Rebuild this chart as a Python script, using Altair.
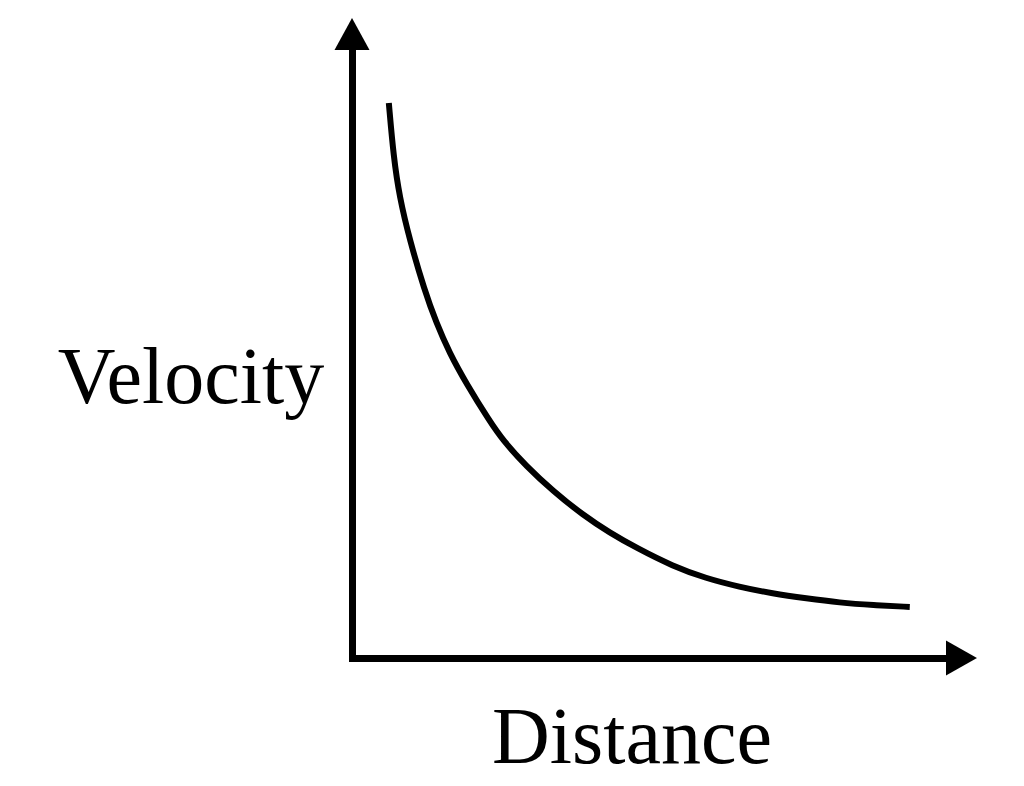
import altair as alt
import pandas as pd

# Curve (arbitrary units, origin at the axes corner)
distance = [0.62, 0.70, 0.80, 0.97, 1.22, 1.42, 1.64, 1.92, 2.32, 2.54, 2.93,
            3.38, 3.89, 4.34, 4.79, 5.40, 5.96, 6.52, 7.08, 7.65, 8.21, 8.77, 9.39]
velocity = [9.13, 8.24, 7.58, 6.88, 6.05, 5.51, 5.02, 4.52, 3.89, 3.58, 3.16,
            2.75, 2.35, 2.06, 1.81, 1.51, 1.31, 1.17, 1.06, 0.98, 0.91, 0.87, 0.84]

axis_max = 10
x_title = "Distance"
y_title = "Velocity"

curve = pd.DataFrame({"d": distance, "v": velocity})
x_arrow = pd.DataFrame({"d": [axis_max], "v": [0]})
y_arrow = pd.DataFrame({"d": [0], "v": [axis_max]})

FONT = "Liberation Serif"

x_scale = alt.Scale(domain=[0, axis_max], nice=False, zero=False)
y_scale = alt.Scale(domain=[0, axis_max], nice=False, zero=False)

x_axis = alt.Axis(
    title=x_title, grid=False, ticks=False, labels=False,
    domainColor="black", domainWidth=7, domainCap="square",
    titleFont=FONT, titleFontSize=80, titleFontWeight="normal", titleColor="black",
    titleAngle=0, titleAlign="center", titleBaseline="alphabetic",
    titleX=279.5, titleY=104,
)
y_axis = alt.Axis(
    title=y_title, grid=False, ticks=False, labels=False,
    domainColor="black", domainWidth=7, domainCap="square",
    titleFont=FONT, titleFontSize=80, titleFontWeight="normal", titleColor="black",
    titleAngle=0, titleAlign="center", titleBaseline="alphabetic",
    titleX=-161.5, titleY=352,
)

line = alt.Chart(curve).mark_line(
    color="black", strokeWidth=6, interpolate="basis"
).encode(
    x=alt.X("d:Q", scale=x_scale, axis=x_axis),
    y=alt.Y("v:Q", scale=y_scale, axis=y_axis),
)

head_right = alt.Chart(x_arrow).mark_point(
    shape="M0,-1L1.77,0L0,1Z", size=1225, filled=True, color="black",
    opacity=1, strokeWidth=0
).encode(
    x=alt.X("d:Q", scale=x_scale),
    y=alt.Y("v:Q", scale=y_scale),
)

head_up = alt.Chart(y_arrow).mark_point(
    shape="M-1,0L0,-1.83L1,0Z", size=1225, filled=True, color="black",
    opacity=1, strokeWidth=0
).encode(
    x=alt.X("d:Q", scale=x_scale),
    y=alt.Y("v:Q", scale=y_scale),
)

chart = alt.layer(line, head_right, head_up).properties(
    width=594,
    height=608,
    autosize=alt.AutoSizeParams(type="none"),
    padding={"left": 344, "top": 42, "right": 70, "bottom": 114},
    background="white",
).configure_view(stroke=None)

chart.save("out.html", embed_options={"renderer": "svg", "actions": False})
